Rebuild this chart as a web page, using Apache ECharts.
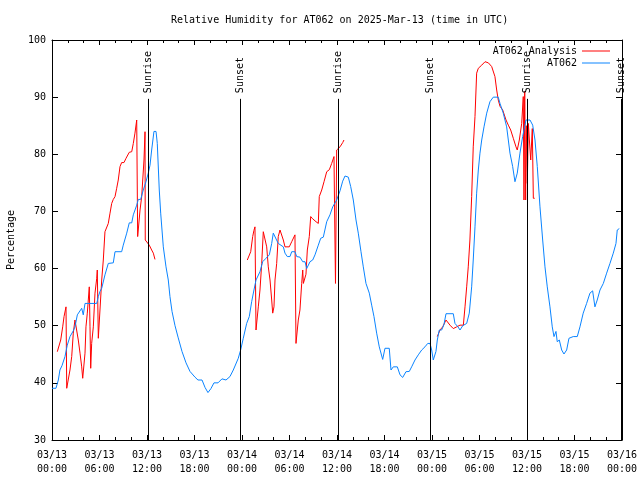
<!DOCTYPE html>
<html><head><meta charset="utf-8">
<script src="https://cdn.jsdelivr.net/npm/echarts@6/dist/echarts.min.js"></script>
<style>html,body{margin:0;padding:0;background:#fff}#c{width:640px;height:480px}</style>
</head><body><div id="c"></div>
<script>
// hours since 2025-03-13 00:00 UTC
const obsHours = [0,0.5,0.8,1.0,1.26,1.64,1.93,2.27,2.69,2.9,3.2,3.75,3.95,4.17,5.65,5.85,6.06,6.28,6.69,7.11,7.74,7.96,8.8,9.0,9.44,9.76,10.07,10.27,10.7,10.9,11.2,11.53,11.87,12.16,12.38,12.59,12.88,13.14,13.3,13.55,13.73,14.06,14.4,14.69,14.9,15.16,15.54,15.92,16.42,16.93,17.43,18.06,18.44,18.95,19.33,19.7,20.08,20.46,20.97,21.47,21.98,22.48,22.9,23.53,23.83,24.16,24.59,24.92,25.22,25.51,25.77,26.27,26.61,27.03,27.45,27.75,27.95,28.17,28.58,28.8,29.22,29.43,29.72,30.06,30.28,30.69,30.91,31.32,31.67,31.96,32.17,32.59,32.93,33.22,33.64,33.94,34.27,34.7,35.11,35.46,35.96,36.38,36.72,37.01,37.43,37.73,38.06,38.4,38.69,39.03,39.32,39.66,40.08,40.38,40.67,41.01,41.34,41.77,42.06,42.6,42.82,43.11,43.62,43.96,44.3,44.71,45.13,45.43,45.85,46.27,46.7,47.11,47.46,47.75,47.96,48.16,48.5,48.67,48.92,49.22,49.51,49.77,50.69,50.9,51.28,51.54,51.88,52.38,52.71,53.01,53.21,53.43,53.64,53.85,54.06,54.28,54.57,54.91,55.32,55.74,56.37,56.59,57.0,57.43,57.85,58.19,58.48,58.77,59.11,59.45,59.87,60.38,60.72,61.01,61.3,61.64,61.98,62.27,62.56,62.9,63.19,63.41,63.66,63.82,64.08,64.38,64.67,65.01,65.3,65.55,65.84,66.35,66.69,67.1,67.53,67.95,68.29,68.58,68.87,69.22,69.64,70.06,70.48,70.9,71.24,71.4,71.66];
const obsValues = [39.05,39.05,40.5,42.25,43,44.6,46.6,48.1,49.1,49.8,51.9,53.05,51.9,53.9,53.9,55.1,56,56.55,58.9,60.9,61.0,62.95,62.95,64.1,66.2,68.0,68.0,69.4,71.1,72.1,72.1,73.75,75.2,76.7,78.1,80.75,84.0,84.0,81.9,73.75,69.7,63.8,60.3,58,55.1,52.5,50,48,45.5,43.5,42,41,40.5,40.5,39.2,38.3,39,40,40,40.7,40.5,41.1,42.25,44.3,45.75,47.8,50.4,51.6,54.2,56.25,58,59.45,61.2,61.8,62.4,64.4,66.2,65.9,64.4,64.1,63.8,62.7,62.1,62.1,62.95,62.95,62.1,62.0,61.2,61.2,60.0,61.2,61.5,62.4,64.1,65.3,65.5,68.2,69.4,70.8,72,73.6,75.3,76.2,76,74.35,72,68.5,66.2,62.95,60.3,57.4,55.7,53.6,51.6,48.7,46.3,44.1,46.05,46.05,42.25,42.8,42.8,41.4,40.95,41.95,42.0,42.8,44.0,44.9,45.75,46.3,46.9,46.9,45.75,44.0,45.5,47.5,49.25,49.25,50.2,52.1,52.1,50.4,49.8,49.25,50.0,50.4,52.2,56.8,61.5,67.3,73.2,77.25,80.2,82.5,84.8,87.2,89.2,90.0,90.0,88.9,87.2,84.8,80.2,77.85,75.2,76.7,80.2,83.1,86.0,86.0,85.1,82.5,77.85,70.8,65,60.3,56.8,53.3,49.8,48.1,49.0,47.2,47.5,45.75,45.05,45.75,47.8,47.5,48.1,48.1,49.8,52.2,53.9,55.7,56.1,53.3,54.5,56.25,57.4,59.2,60.9,62.7,64.4,66.75,67.0];

const anaHours = [0.67,0.92,1.1,1.35,1.52,1.77,1.86,2.06,2.27,2.49,2.69,2.9,3.12,3.32,3.54,3.75,3.88,3.95,4.17,4.29,4.46,4.71,4.8,4.89,5.01,5.22,5.43,5.65,5.72,5.85,6.06,6.28,6.48,6.69,6.91,7.11,7.33,7.54,7.74,7.96,8.17,8.37,8.59,8.8,9.09,9.35,9.51,9.76,10.07,10.27,10.48,10.7,10.78,10.82,11.03,11.12,11.33,11.62,11.75,11.78,11.96,12.29,12.59,12.8,13.01,
  18,
  24.67,24.92,25.1,25.35,25.51,25.64,25.77,25.93,26.06,26.27,26.49,26.69,26.9,27.12,27.32,27.54,27.75,27.88,28.04,28.17,28.38,28.58,28.8,29.01,29.22,29.43,29.68,29.97,30.28,30.69,30.82,30.98,31.11,31.32,31.54,31.67,31.75,31.96,32.08,32.25,32.5,32.68,32.93,33.35,33.64,33.76,34.07,34.36,34.7,35.03,35.33,35.62,35.71,35.81,35.96,36.38,36.72,36.88,
  42,
  48.67,49.01,49.35,49.51,49.77,50.02,50.27,50.69,51.12,51.54,51.96,52.17,52.38,52.58,52.79,53.01,53.21,53.43,53.64,53.85,54.28,54.7,55.12,55.54,55.95,56.17,56.37,56.59,56.93,57.35,57.64,57.94,58.27,58.61,58.77,59.03,59.33,59.53,59.62,59.71,59.83,59.91,60.04,60.17,60.3,60.47,60.67,60.8,60.97];
const anaValues = [45.45,45.45,47.5,49.8,51.6,53.3,39.05,39.05,42.25,44.6,48.7,51,51,47.5,45.2,42.8,40.8,40.8,45.2,49.8,52.2,56.8,49.8,42.55,46.9,49.8,55.7,58.3,59.75,47.8,52.75,58,61.5,66.45,66.75,67.9,69.7,71.4,72.1,72.6,74.05,75.5,77.85,78.55,78.55,79.3,79.6,80.35,80.45,81.9,83.7,86.0,86.0,65.6,65.6,70.25,72.6,79,83.95,65,64.9,64.1,63.25,62.7,61.6,
  null,
  61.5,61.5,62.95,65.6,66.7,67.3,49.25,49.25,53.3,56.25,60.9,66.45,66.45,63.8,60.3,58,54.5,52.2,53.3,58,60.9,65.6,66.75,66.5,65,63.8,63.5,63.8,64.7,65.9,46.9,46.7,51,52.75,57.4,59.75,57.4,57.4,59,63.25,65.6,69.1,68.7,68.2,67.9,72.6,73.75,75.2,76.95,77.3,78.4,79.6,68.5,57.4,80.75,81.3,82.05,82.5,
  null,
  48.1,49.25,49.8,50.0,51,50.7,50.1,49.5,49.8,50.1,50.1,53.3,56.8,60.3,65,72.6,81.3,86.6,94.2,95.05,95.6,96.2,96.0,95.35,93.6,91.25,89.5,88.4,87.75,86,85.1,84.25,82.8,81.3,80.75,82.5,85.4,90.1,72,91,72,85,74.9,85.4,82.5,79,84.5,72.3,72.3];

const eventHours = [12.2, 23.83, 36.15, 47.78, 60.05, 71.87];
const eventNames = ['Sunrise','Sunset','Sunrise','Sunset','Sunrise','Sunset'];
const xTickLabels = ['03/13\n00:00','03/13\n06:00','03/13\n12:00','03/13\n18:00','03/14\n00:00','03/14\n06:00','03/14\n12:00','03/14\n18:00','03/15\n00:00','03/15\n06:00','03/15\n12:00','03/15\n18:00','03/16\n00:00'];

const mono = 'DejaVu Sans Mono';
const obsData = obsHours.map((h,i)=>[h, obsValues[i]]);
const anaData = anaHours.map((h,i)=>[h, anaValues[i]===null ? '-' : anaValues[i]]);
const eventData = eventHours.map((h,i)=>({name: eventNames[i], value:[h, 90.7]}));
const eventLines = eventHours.map(h=>[{coord:[h,30]},{coord:[h,89.7]}]);

const tickBase = {
  type:'value', min:0, max:72, interval:6,
  axisLine:{show:true, onZero:false, lineStyle:{color:'#000', width:1}},
  axisTick:{show:true, inside:true, length:5, lineStyle:{color:'#000', width:1}},
  minorTick:{show:true, splitNumber:3, length:3, lineStyle:{color:'#000', width:1}},
  splitLine:{show:false}
};
const yBase = {
  type:'value', min:30, max:100, interval:10,
  axisLine:{show:true, onZero:false, lineStyle:{color:'#000', width:1}},
  axisTick:{show:true, inside:true, length:6, lineStyle:{color:'#000', width:1}},
  splitLine:{show:false}
};

const chart = echarts.init(document.getElementById('c'));
chart.setOption({
  animation:false,
  backgroundColor:'#fff',
  textStyle:{fontFamily:mono, fontSize:10, color:'#000'},
  title:{
    text:'Relative Humidity for AT062 on 2025-Mar-13 (time in UTC)',
    left:166, top:10,
    textStyle:{fontFamily:mono, fontSize:10, fontWeight:'normal', color:'#000'}
  },
  legend:{
    data:[{name:'AT062 Analysis', icon:'rect'},{name:'AT062', icon:'rect'}],
    orient:'vertical', align:'right', right:25, top:40,
    itemWidth:28, itemHeight:1, itemGap:0,
    textStyle:{fontFamily:mono, fontSize:10, color:'#000', lineHeight:12}
  },
  grid:{left:52, right:18, top:40, bottom:40, outerBoundsMode:'none', containLabel:false},
  xAxis:[
    Object.assign({}, tickBase, {position:'bottom',
      axisLabel:{show:true, margin:8, lineHeight:14, fontFamily:mono, fontSize:10, color:'#000',
        formatter:v=>xTickLabels[Math.round(v/6)]}}),
    Object.assign({}, tickBase, {position:'top', axisLabel:{show:false}})
  ],
  yAxis:[
    Object.assign({}, yBase, {position:'left',
      axisLabel:{show:true, margin:6, fontFamily:mono, fontSize:10, color:'#000'},
      name:'Percentage', nameLocation:'middle', nameGap:36, nameRotate:90,
      nameTextStyle:{fontFamily:mono, fontSize:10, color:'#000'}}),
    Object.assign({}, yBase, {position:'right', axisLabel:{show:false}})
  ],
  series:[
    {name:'AT062 Analysis', type:'line', data:anaData, symbol:'none', showSymbol:false,
      connectNulls:false, lineStyle:{color:'#ff0000', width:1}, itemStyle:{color:'#ff0000'}, z:2},
    {name:'AT062', type:'line', data:obsData, symbol:'none', showSymbol:false,
      lineStyle:{color:'#0a84ff', width:1}, itemStyle:{color:'#0a84ff'}, z:3},
    {name:'events', type:'scatter', data:eventData, symbolSize:1,
      itemStyle:{color:'#fff', opacity:0}, z:4, silent:true,
      label:{show:true, formatter:'{b}', rotate:90, position:'inside', align:'left', verticalAlign:'middle',
        fontFamily:mono, fontSize:10, color:'#000', opacity:1, textBorderWidth:0},
      markLine:{silent:true, symbol:['none','none'], animation:false,
        lineStyle:{color:'#000', width:1, type:'solid'}, label:{show:false}, data:eventLines}}
  ]
});
</script></body></html>
